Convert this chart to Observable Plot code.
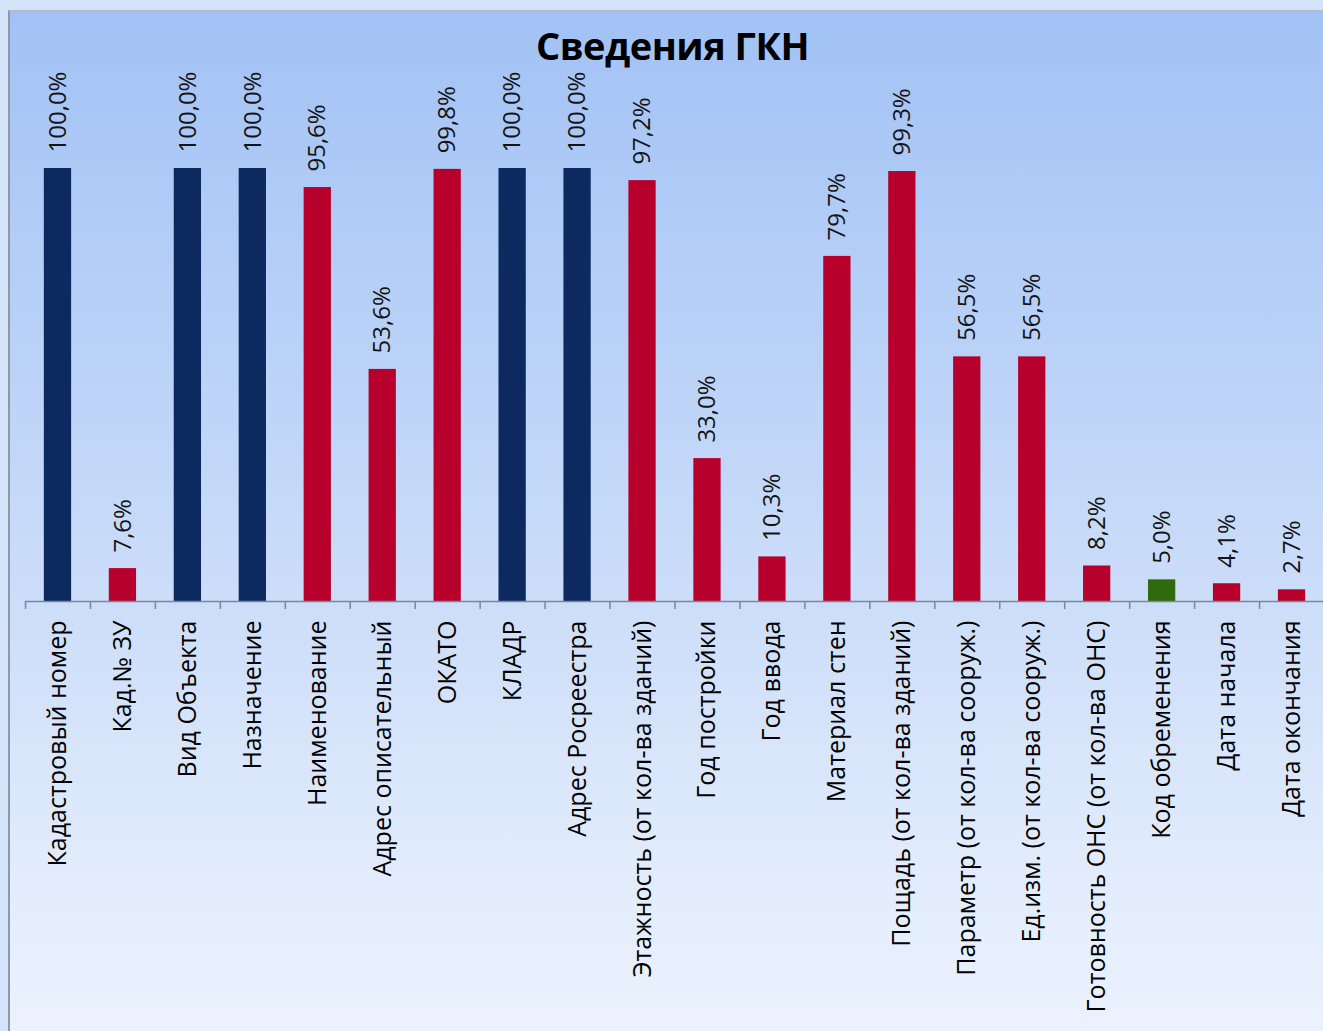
<!DOCTYPE html>
<html>
<head>
<meta charset="utf-8">
<script src="https://cdn.jsdelivr.net/npm/d3@7"></script>
<script src="https://cdn.jsdelivr.net/npm/@observablehq/plot@0.6"></script>
<style>
  html, body { margin: 0; padding: 0; }
  #page { position: relative; width: 1323px; height: 1031px; background: #d3e3fa; overflow: hidden; font-family: "Open Sans", sans-serif; }
  #frame { position: absolute; left: 8px; top: 10px; right: 0; bottom: 0;
    border-left: 2px solid #8e98a6; border-top: 2px solid #b3bcc6;
    background: linear-gradient(to bottom, #a2c2f5 0%, #b4cef7 25%, #cadcf9 55%, #e2ecfc 85%, #ebf2fe 100%); }
  #title { position: absolute; top: 22px; left: 22px; width: 1301px; text-align: center;
    font-weight: 700; font-size: 38px; line-height: 46px; color: #000; letter-spacing: -0.5px; }
  #chart { position: absolute; left: 0; top: 70px; }
</style>
</head>
<body>
<div id="page">
  <div id="frame"></div>
  <div id="title">Сведения ГКН</div>
  <div id="chart"></div>
</div>
<script>
const categories = [
  "Кадастровый номер", "Кад.№ ЗУ", "Вид Объекта", "Назначение", "Наименование",
  "Адрес описательный", "ОКАТО", "КЛАДР", "Адрес Росреестра", "Этажность (от кол-ва зданий)",
  "Год постройки", "Год ввода", "Материал стен", "Пощадь (от кол-ва зданий)", "Параметр (от кол-ва сооруж.)",
  "Ед.изм. (от кол-ва сооруж.)", "Готовность ОНС (от кол-ва ОНС)", "Код обременения", "Дата начала", "Дата окончания"
];
const values = [100.0, 7.6, 100.0, 100.0, 95.6, 53.6, 99.8, 100.0, 100.0, 97.2,
                33.0, 10.3, 79.7, 99.3, 56.5, 56.5, 8.2, 5.0, 4.1, 2.7];
const kinds = ["A", "B", "A", "A", "B", "B", "B", "A", "A", "B",
               "B", "B", "B", "B", "B", "B", "B", "C", "B", "B"];
const kindDomain = ["A", "B", "C"];
const kindColors = ["#0c2960", "#b8002c", "#2f6a0c"];

const data = categories.map((c, i) => ({cat: c, value: values[i], kind: kinds[i]}));
const fmt = v => v.toFixed(1).replace(".", ",") + "%";

const chart = Plot.plot({
  width: 1323,
  height: 961,
  marginTop: 98,
  marginBottom: 430,
  marginLeft: 25,
  marginRight: -1,
  style: {background: "transparent", fontFamily: "'Open Sans', sans-serif", overflow: "visible"},
  x: {domain: categories, paddingInner: 0.58, paddingOuter: 0.29, round: false, axis: null},
  y: {domain: [0, 100], axis: null},
  color: {domain: kindDomain, range: kindColors},
  marks: [
    Plot.barY(data, {x: "cat", y: "value", fill: "kind"}),
    Plot.ruleY([0], {stroke: "#7c8898", strokeWidth: 1.5}),
    Plot.ruleX(categories, {x: d => d, y1: 0, y2: 0, insetBottom: -8, dx: -32.475, stroke: "#7c8898", strokeWidth: 1.5}),
    Plot.text(data, {x: "cat", y: "value", text: d => fmt(d.value), rotate: -90, textAnchor: "start", dy: -16, fontSize: 24, fill: "#141414"}),
    Plot.text(data, {x: "cat", y: 0, text: "cat", rotate: -90, textAnchor: "end", dy: 19, fontSize: 25, fill: "#000"})
  ]
});
document.getElementById("chart").appendChild(chart);
</script>
</body>
</html>
